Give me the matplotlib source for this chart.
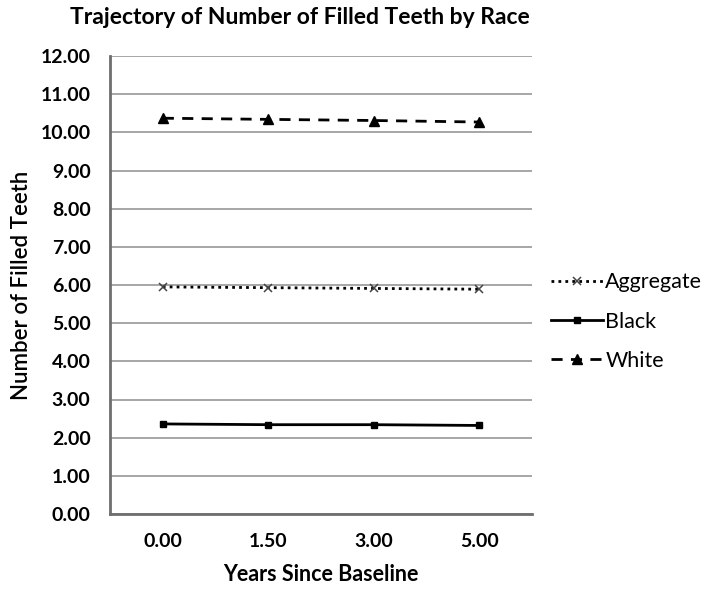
import matplotlib
matplotlib.use("Agg")
import matplotlib.pyplot as plt

# data
years = ["0.00", "1.50", "3.00", "5.00"]
aggregate = [5.95, 5.93, 5.91, 5.89]
black = [2.36, 2.34, 2.34, 2.32]
white = [10.37, 10.34, 10.31, 10.27]
y_ticks = [0, 1, 2, 3, 4, 5, 6, 7, 8, 9, 10, 11, 12]

plt.rcParams['font.family'] = ['Lato', 'DejaVu Sans']

fig = plt.figure(figsize=(7.14, 5.96), dpi=100)
ax = fig.add_axes([110 / 714, 82 / 596, 422 / 714, 458 / 596])

x = list(range(len(years)))
ax.plot(x, aggregate, linestyle=(0, (1, 1.5)), color='black', linewidth=2,
        marker='x', markersize=6, markeredgecolor='#444444', markeredgewidth=1.1,
        label='Aggregate')
ax.plot(x, black, linestyle='-', color='black', linewidth=2,
        marker='s', markersize=5, label='Black')
ax.plot(x, white, linestyle=(0, (4, 3)), color='black', linewidth=2,
        marker='^', markersize=7.5, label='White')

ax.set_xlim(-0.5, len(years) - 0.5)
ax.set_ylim(0, 12)
ax.set_xticks(x)
ax.set_xticklabels(years)
ax.set_yticks(y_ticks)
ax.set_yticklabels([f"{v:.2f}" for v in y_ticks])
ax.tick_params(length=0, labelsize=14, pad=14)
for lbl in ax.get_xticklabels() + ax.get_yticklabels():
    lbl.set_fontweight('bold')

ax.grid(axis='y', color='#a6a6a6', linewidth=1.4)
ax.set_axisbelow(True)
for s in ['top', 'right']:
    ax.spines[s].set_visible(False)
for s in ['left', 'bottom']:
    ax.spines[s].set_color('#6e6e6e')
    ax.spines[s].set_linewidth(2)

ax.set_xlabel("Years Since Baseline", fontsize=15.5, fontweight='bold', labelpad=10)
ax.set_ylabel("Number of Filled Teeth", fontsize=16, fontweight='semibold', labelpad=6)
fig.text(300 / 714, 1 - 18 / 596, "Trajectory of Number of Filled Teeth by Race",
         ha='center', va='center', fontsize=16.5, fontweight='bold')

ax.legend(loc='center left', bbox_to_anchor=(1.0, 0.42), frameon=False,
          fontsize=15.5, handlelength=2.4, handletextpad=0.1, labelspacing=0.9)

fig.savefig("out.png", dpi=100)
